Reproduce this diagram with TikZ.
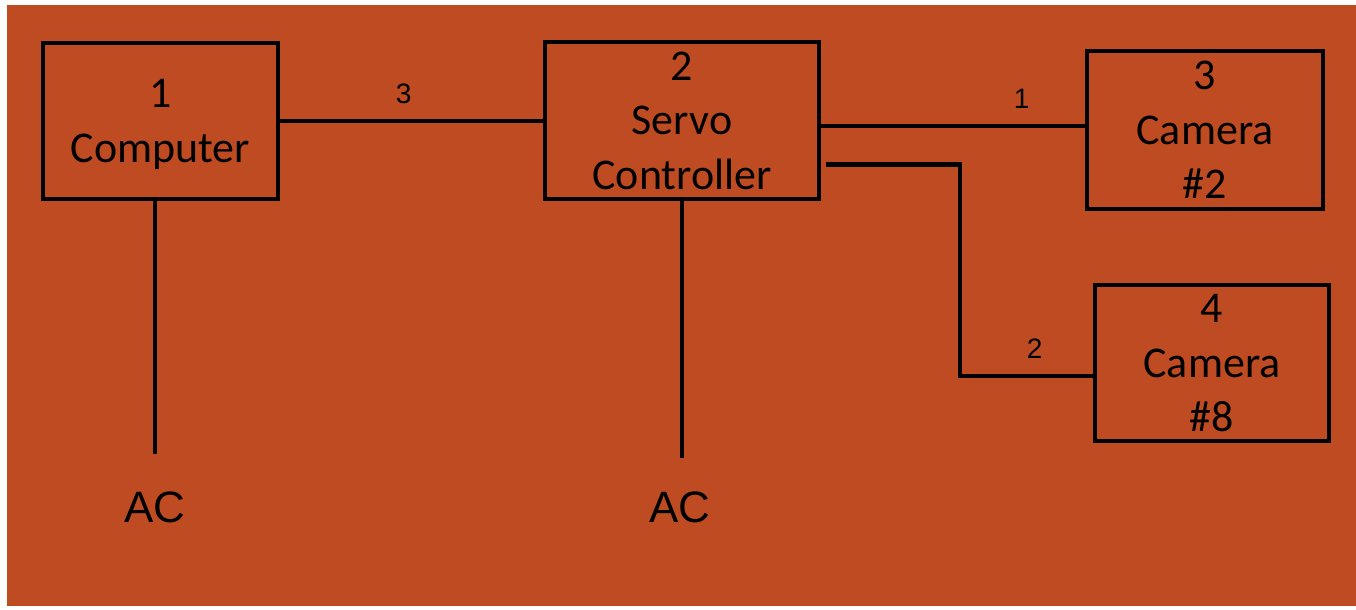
\documentclass[tikz,border=0pt]{standalone}
\usepackage{fontspec}
\setmainfont{Carlito}
\newfontfamily\arialfont{Liberation Sans}
\definecolor{rustOrange}{RGB}{190, 75, 34}
\usetikzlibrary{positioning, calc}

\tikzset{
  unit/.style={draw, line width=2pt, align=center, inner sep=0pt, text depth=0pt,
    font=\fontsize{25}{31}\selectfont},
  wire/.style={line width=2.6pt},
  portlabel/.style={font=\arialfont\fontsize{16}{16}\selectfont, inner sep=0pt, above=0.3cm},
  mains/.style={font=\arialfont\fontsize{25}{25}\selectfont, inner sep=0pt}
}

\begin{document}
\begin{tikzpicture}[x=0.02cm, y=-0.02cm]
        % background
        \fill[white] (0,0) rectangle (1356,609);
        \fill[rustOrange] (7,5) rectangle (1356,606);
        \useasboundingbox (0,0) rectangle (1356,609);

        \node[unit, minimum width=4.7cm, minimum height=3.12cm] (comp) at (160.5,121) {1\\Computer};
        \node[unit, minimum width=5.48cm, minimum height=3.14cm] (servo) at (682,120.5) {2\\Servo\\Controller};
        \node[unit, minimum width=4.72cm, minimum height=3.16cm] (cam2) at (1205,130) {3\\Camera\\\#2};
        \node[unit, minimum width=4.68cm, minimum height=3.12cm] (cam8) at (1212,363) {4\\Camera\\\#8};

        \node[mains] (acA) at (155,507) {AC};
        \node[mains] (acB) at (680,507) {AC};

        \coordinate (bend) at (960,376);

        \draw[wire] (comp.east) -- (comp.east -| servo.west) node[portlabel, pos=0.47] (l3) {3};
        \draw[wire] ([yshift=-0.11cm]servo.east) -- ([yshift=-0.11cm]servo.east -| cam2.west) node[portlabel, pos=0.76] (l1) {1};
        \draw[wire] ([shift={(5,44)}]servo.east) -| (bend) -- (bend -| cam8.west) node[portlabel, pos=0.56] (l2) {2};

        \draw[wire, shorten >=0.74cm] (acA |- comp.south) -- (acA.north);
        \draw[wire, shorten >=0.66cm] (servo.south) -- (servo.south |- acB.north);
      \end{tikzpicture}
\end{document}
